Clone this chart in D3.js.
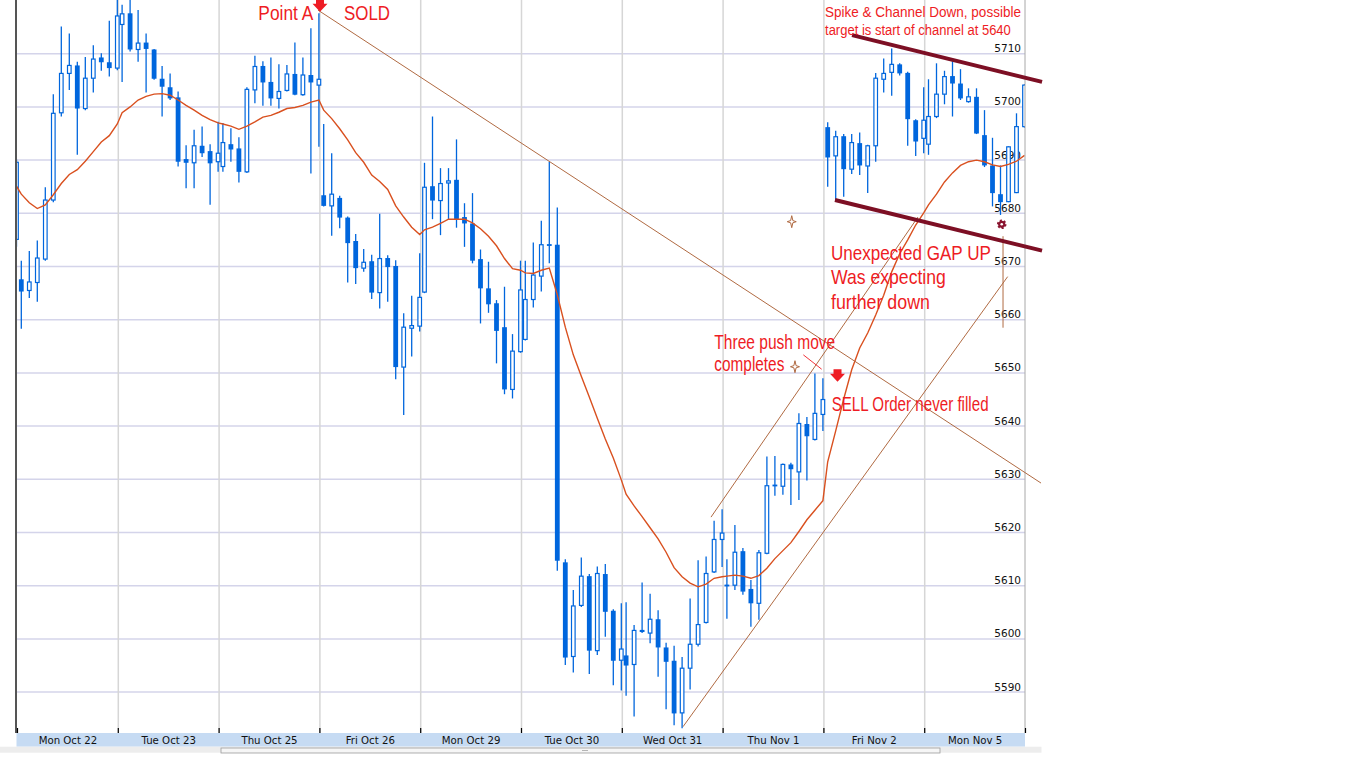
<!DOCTYPE html>
<html>
<head>
<meta charset="utf-8">
<script src="https://cdn.jsdelivr.net/npm/d3@7"></script>
<style>
body { margin: 0; background: #fff; }
svg { display: block; }
</style>
</head>
<body>
<svg id="chart" width="1366" height="768"></svg>
<script>
var width = 1366, height = 768;
var left = 17, right = 1025, bottom = 733;

var dayLabels = ["Mon Oct 22", "Tue Oct 23", "Thu Oct 25", "Fri Oct 26", "Mon Oct 29",
                 "Tue Oct 30", "Wed Oct 31", "Thu Nov 1", "Fri Nov 2", "Mon Nov 5"];

var priceTicks = [5590, 5600, 5610, 5620, 5630, 5640, 5650, 5660, 5670, 5680, 5690, 5700, 5710];

// first bar is the last one of the previous session, then 13 bars per day
var opens = [5675.0,
  5667.5, 5665.4, 5666.9, 5671.3, 5682.4, 5698.8, 5706.2, 5707.7, 5699.6, 5705.3, 5709.2, 5708.3, 5707.2,
  5715.4, 5717.5, 5710.7, 5712.0, 5710.7, 5705.2, 5703.6, 5701.7, 5690.1, 5689.4, 5692.6, 5691.6, 5689.6,
  5688.7, 5692.9, 5692.1, 5687.7, 5703.1, 5707.6, 5704.6, 5701.5, 5703.0, 5706.1, 5702.2, 5705.9, 5704.0,
  5683.3, 5681.3, 5682.8, 5679.1, 5674.7, 5669.6, 5670.9, 5665.0, 5671.5, 5670.0, 5651.0, 5658.3, 5658.7,
  5665.1, 5685.0, 5682.3, 5685.6, 5686.2, 5679.2, 5678.0, 5671.3, 5665.8, 5663.0, 5658.5, 5646.8, 5653.9,
  5656.2, 5663.7, 5668.1, 5673.9, 5674.0, 5614.3, 5596.6, 5606.2, 5611.7, 5597.7, 5612.1, 5605.2, 5595.9,
  5596.8, 5595.1, 5601.6, 5601.0, 5603.6, 5598.3, 5595.8, 5586.0, 5594.4, 5598.9, 5603.0, 5612.5, 5618.6,
  5609.9, 5610.0, 5616.4, 5609.3, 5606.6, 5616.0, 5628.7, 5628.6, 5632.7, 5631.3, 5640.3, 5637.4, 5642.1,
  5696.1, 5690.7, 5694.4, 5688.2, 5693.1, 5688.8, 5692.6, 5705.1, 5706.4, 5707.9, 5706.3, 5697.4, 5694.0,
  5692.9, 5698.1, 5702.3, 5705.7, 5704.3, 5700.9, 5701.8, 5694.6, 5688.9, 5683.5, 5682.1, 5683.8, 5696.2];

var highs = [5690.0,
  5671.0, 5672.8, 5674.8, 5684.8, 5702.3, 5715.0, 5713.7, 5708.4, 5709.3, 5711.5, 5710.0, 5716.1, 5722.0,
  5719.1, 5722.0, 5718.1, 5713.7, 5710.8, 5707.6, 5706.2, 5702.8, 5692.7, 5695.6, 5696.2, 5692.9, 5697.1,
  5696.9, 5695.9, 5694.2, 5703.6, 5709.5, 5708.5, 5709.2, 5707.9, 5707.8, 5712.0, 5709.2, 5714.7, 5717.5,
  5696.7, 5691.2, 5683.2, 5679.3, 5676.0, 5673.2, 5672.1, 5679.8, 5672.0, 5671.1, 5661.1, 5664.4, 5672.4,
  5689.4, 5698.1, 5688.4, 5688.4, 5693.8, 5681.8, 5683.7, 5673.1, 5670.8, 5663.6, 5666.1, 5657.2, 5671.0,
  5671.0, 5674.4, 5678.5, 5689.6, 5681.0, 5614.9, 5609.1, 5615.2, 5612.1, 5613.5, 5614.0, 5605.5, 5606.6,
  5606.8, 5602.5, 5610.5, 5608.4, 5605.3, 5599.2, 5598.6, 5596.5, 5607.5, 5614.7, 5615.4, 5622.1, 5624.3,
  5614.9, 5621.3, 5617.0, 5611.0, 5616.6, 5634.2, 5634.3, 5632.9, 5633.0, 5642.3, 5641.6, 5649.8, 5648.9,
  5697.0, 5695.4, 5694.8, 5694.8, 5695.1, 5692.8, 5706.3, 5709.0, 5710.9, 5708.1, 5706.5, 5697.6, 5703.6,
  5705.1, 5708.1, 5706.7, 5708.5, 5707.0, 5703.4, 5703.4, 5699.3, 5694.1, 5688.9, 5692.5, 5698.7, 5704.2];

var lows = [5673.6,
  5658.2, 5664.0, 5663.3, 5671.0, 5682.0, 5698.1, 5703.1, 5690.9, 5699.3, 5702.6, 5706.7, 5705.6, 5706.8,
  5704.6, 5710.3, 5708.4, 5702.6, 5705.0, 5698.1, 5701.2, 5688.7, 5684.6, 5684.6, 5690.5, 5681.5, 5687.7,
  5687.7, 5689.6, 5685.7, 5687.5, 5700.6, 5700.1, 5700.1, 5699.6, 5702.8, 5702.1, 5702.0, 5687.4, 5692.4,
  5681.2, 5675.7, 5677.1, 5666.9, 5666.6, 5668.9, 5663.8, 5662.0, 5663.3, 5648.7, 5642.0, 5653.0, 5657.7,
  5664.9, 5678.8, 5675.8, 5678.8, 5677.2, 5673.6, 5670.5, 5659.2, 5661.2, 5651.7, 5645.9, 5645.1, 5653.7,
  5656.0, 5662.2, 5665.2, 5670.5, 5612.7, 5595.0, 5593.6, 5605.9, 5593.3, 5596.9, 5600.3, 5591.2, 5590.2,
  5589.2, 5585.3, 5601.0, 5599.1, 5592.8, 5586.7, 5583.7, 5583.1, 5590.4, 5598.5, 5602.8, 5612.3, 5613.4,
  5603.7, 5609.1, 5608.2, 5602.2, 5603.5, 5615.8, 5626.8, 5627.0, 5625.1, 5626.0, 5629.7, 5637.2, 5639.0,
  5684.9, 5682.4, 5683.0, 5687.3, 5687.1, 5683.7, 5689.6, 5702.6, 5702.0, 5705.8, 5692.6, 5690.7, 5691.2,
  5690.9, 5697.8, 5700.4, 5698.1, 5701.2, 5700.7, 5694.8, 5688.6, 5681.2, 5679.6, 5682.0, 5683.7, 5696.0];

var closes = [5689.5,
  5665.2, 5667.0, 5671.5, 5682.4, 5698.7, 5706.2, 5707.7, 5699.6, 5705.3, 5708.9, 5708.3, 5707.2, 5717.0,
  5717.4, 5710.7, 5711.9, 5710.8, 5705.2, 5703.7, 5701.5, 5689.6, 5689.4, 5692.6, 5691.2, 5689.3, 5691.2,
  5693.2, 5691.9, 5687.7, 5703.2, 5707.5, 5704.5, 5701.5, 5702.8, 5706.1, 5702.2, 5705.9, 5704.5, 5705.1,
  5681.3, 5683.5, 5679.1, 5674.3, 5669.6, 5670.7, 5665.0, 5671.4, 5669.8, 5651.0, 5658.5, 5658.8, 5664.1,
  5684.8, 5682.3, 5685.5, 5686.0, 5678.8, 5678.0, 5671.0, 5665.8, 5662.8, 5657.8, 5646.8, 5654.0, 5665.5,
  5663.7, 5668.3, 5674.0, 5674.0, 5614.6, 5596.4, 5606.1, 5611.7, 5597.7, 5612.2, 5605.0, 5595.8, 5598.0,
  5594.9, 5601.5, 5601.2, 5603.6, 5598.3, 5595.6, 5585.9, 5594.4, 5598.9, 5602.6, 5612.2, 5618.6, 5619.8,
  5610.0, 5616.2, 5608.8, 5606.6, 5616.1, 5628.7, 5628.8, 5632.7, 5631.8, 5640.4, 5638.0, 5642.3, 5644.9,
  5690.4, 5694.3, 5688.2, 5693.2, 5688.9, 5692.6, 5705.3, 5706.2, 5707.9, 5706.2, 5697.6, 5693.4, 5697.4,
  5698.1, 5702.3, 5705.6, 5704.3, 5701.5, 5701.8, 5694.9, 5688.9, 5683.7, 5682.0, 5692.4, 5696.2, 5704.0];

// moving average, one value per bar
var maValues = [5685.0,
  5683.5, 5681.9, 5680.8, 5681.5, 5683.4, 5685.5, 5687.2, 5688.1, 5689.7, 5691.5, 5693.3, 5694.5, 5696.7,
  5698.8, 5699.9, 5701.2, 5701.9, 5702.3, 5702.4, 5702.1, 5701.2, 5700.2, 5699.3, 5698.3, 5697.5, 5696.9,
  5696.7, 5696.3, 5695.7, 5696.3, 5697.1, 5698.0, 5698.3, 5698.9, 5699.6, 5699.8, 5700.2, 5700.8, 5701.2,
  5699.3, 5697.7, 5695.8, 5693.7, 5691.3, 5689.5, 5687.1, 5685.9, 5684.4, 5681.3, 5679.2, 5677.3, 5675.9,
  5676.8, 5677.3, 5678.0, 5678.8, 5678.8, 5678.8, 5678.1, 5677.0, 5675.6, 5673.8, 5671.4, 5669.5, 5669.2,
  5668.7, 5668.6, 5669.2, 5669.6, 5664.6, 5658.5, 5653.3, 5649.3, 5645.4, 5641.4, 5637.5, 5633.9, 5629.8,
  5627.1, 5624.9, 5622.9, 5620.8, 5618.7, 5616.2, 5613.3, 5611.6, 5610.4, 5609.7, 5610.2, 5611.3, 5611.6,
  5611.7, 5611.9, 5611.7, 5611.3, 5611.8, 5613.2, 5615.0, 5616.5, 5618.0, 5620.1, 5622.3, 5624.1, 5625.9,
  5633.2, 5639.0, 5645.0, 5650.5, 5654.6, 5657.4, 5660.8, 5664.5, 5668.9, 5672.3, 5674.9, 5677.7, 5680.0,
  5681.5, 5683.5, 5685.8, 5687.5, 5688.9, 5689.6, 5689.9, 5689.6, 5689.0, 5688.7, 5689.1, 5689.7, 5690.8];

// hand drawn lines: [day position, price] start and end
var thinLines = [
  [[2.986, 5718.1], [10.159, 5629.2]],
  [[6.885, 5622.8], [8.938, 5679.2]],
  [[6.607, 5583.4], [9.828, 5668.0]],
  [[9.782, 5675.6], [9.782, 5658.4]]
];
var channelLines = [
  [[8.284, 5713.4], [10.169, 5704.6]],
  [[8.115, 5682.4], [10.169, 5672.9]]
];
var pointerLine = [[7.801, 5653.3], [7.983, 5650.6]];

var notes = [
  {text: "Point A", t: 2.394, p: 5716.24, size: 21, len: 55},
  {text: "SOLD", t: 3.244, p: 5716.24, size: 21, len: 46},
  {text: "Spike & Channel Down, possible", t: 8.016, p: 5716.86, size: 15, len: 196},
  {text: "target is start of channel at 5640", t: 8.016, p: 5713.42, size: 15, len: 186},
  {text: "Unexpected GAP UP", t: 8.075, p: 5671.13, size: 20, len: 160},
  {text: "Was expecting", t: 8.075, p: 5666.56, size: 20, len: 115},
  {text: "further down", t: 8.075, p: 5661.86, size: 20, len: 99},
  {text: "Three push move", t: 6.918, p: 5654.40, size: 19.5, len: 121},
  {text: "completes", t: 6.918, p: 5650.32, size: 19.5, len: 70},
  {text: "SELL Order never filled", t: 8.082, p: 5642.80, size: 19.5, len: 157}
];
var arrows = [[3.006, 5717.8], [8.140, 5648.25]];
var sparkles = [[7.686, 5678.33], [7.718, 5651.07]];
var gears = [[9.769, 5677.84]];

var blue = "#0066dd", red = "#ee1c24", brown = "#b06a42";

var svg = d3.select("#chart");
svg.append("rect").attr("width", width).attr("height", height).attr("fill", "#fff");

var x = d3.scaleLinear().domain([0, 10]).range([left, right]);
var y = d3.scaleLinear().domain([5582.22, 5720]).range([bottom, 0]);

function barTime(i) {
  var slot = i + 12;
  var d = Math.floor(slot / 13) - 1, k = slot % 13;
  return d + (4.3 + 8 * k) / 100.8;
}

var bars = opens.map(function(o, i) {
  return {t: barTime(i), o: o, h: highs[i], l: lows[i], c: closes[i], ma: maValues[i]};
});

svg.append("defs").append("clipPath").attr("id", "plot")
  .append("rect").attr("x", left).attr("y", 0).attr("width", right - left).attr("height", bottom);

// horizontal grid + price labels
var yAxis = svg.append("g")
  .attr("transform", "translate(" + left + ",0)")
  .call(d3.axisRight(y).tickValues(priceTicks).tickSize(right - left).tickFormat(d3.format("d")));
yAxis.select(".domain").remove();
yAxis.selectAll("line").attr("stroke", "#d4d4ea").attr("stroke-width", 1.5);
yAxis.selectAll("text")
  .attr("x", right - left - 4).attr("dy", -1.5)
  .attr("text-anchor", "end")
  .attr("fill", "#111")
  .style("font-family", "'DejaVu Sans', Verdana, sans-serif")
  .style("font-size", "10.5px");

// vertical day grid
var xGrid = svg.append("g")
  .attr("transform", "translate(0," + bottom + ")")
  .call(d3.axisBottom(x).tickValues(d3.range(1, 10)).tickSize(-bottom).tickFormat(""));
xGrid.select(".domain").remove();
xGrid.selectAll("line").attr("stroke", "#d6d6d6").attr("stroke-width", 1.5);

// candles
var plot = svg.append("g").attr("clip-path", "url(#plot)");

plot.selectAll("line.wick")
  .data(bars)
  .join("line")
  .attr("class", "wick")
  .attr("x1", function(d) { return x(d.t); })
  .attr("x2", function(d) { return x(d.t); })
  .attr("y1", function(d) { return y(d.h); })
  .attr("y2", function(d) { return y(d.l); })
  .attr("stroke", blue)
  .attr("stroke-width", 1.3);

plot.selectAll("rect.down")
  .data(bars.filter(function(d) { return d.c < d.o; }))
  .join("rect")
  .attr("class", "down")
  .attr("x", function(d) { return x(d.t) - 2.4; })
  .attr("width", 4.8)
  .attr("y", function(d) { return y(d.o); })
  .attr("height", function(d) { return Math.max(1.2, y(d.c) - y(d.o)); })
  .attr("fill", blue);

plot.selectAll("rect.up")
  .data(bars.filter(function(d) { return d.c >= d.o; }))
  .join("rect")
  .attr("class", "up")
  .attr("x", function(d) { return x(d.t) - 1.8; })
  .attr("width", 3.6)
  .attr("y", function(d) { return y(d.c); })
  .attr("height", function(d) { return Math.max(0.6, y(d.o) - y(d.c)); })
  .attr("fill", "#fff")
  .attr("stroke", blue)
  .attr("stroke-width", 1.2);

// moving average
plot.append("path")
  .datum(bars)
  .attr("fill", "none")
  .attr("stroke", "#d9501f")
  .attr("stroke-width", 1.4)
  .attr("d", d3.line().x(function(d) { return x(d.t); }).y(function(d) { return y(d.ma); }));

// borders
svg.append("line").attr("x1", left - 1).attr("x2", left - 1).attr("y1", 0).attr("y2", bottom)
  .attr("stroke", "#555").attr("stroke-width", 2);
svg.append("line").attr("x1", right).attr("x2", right).attr("y1", 0).attr("y2", bottom)
  .attr("stroke", "#a8a8a8").attr("stroke-width", 1);

// date band
svg.append("rect").attr("x", left - 0.5).attr("y", bottom).attr("width", right - left + 0.5).attr("height", 13.7)
  .attr("fill", "#c6dbf3");
var xTicks = svg.append("g")
  .attr("transform", "translate(0," + bottom + ")")
  .call(d3.axisBottom(x).tickValues(d3.range(0, 11)).tickSize(-5).tickFormat(""));
xTicks.select(".domain").remove();
xTicks.selectAll("line").attr("stroke", "#000").attr("stroke-width", 1.2);

var xLabels = svg.append("g")
  .attr("transform", "translate(0," + bottom + ")")
  .call(d3.axisBottom(x).tickValues(d3.range(0.5, 10, 1)).tickSize(0)
    .tickFormat(function(d) { return dayLabels[Math.floor(d)]; }));
xLabels.select(".domain").remove();
xLabels.selectAll("text")
  .attr("y", 10.8).attr("dy", 0)
  .attr("fill", "#111")
  .style("font-family", "'DejaVu Sans', Verdana, sans-serif")
  .style("font-size", "10.2px");

// scroll bar under the chart
svg.append("rect").attr("x", 0).attr("y", 746.7).attr("width", 1041.5).attr("height", 6)
  .attr("fill", "#ededed");
svg.append("rect").attr("x", 221).attr("y", 748).attr("width", 719).attr("height", 5)
  .attr("fill", "#f6f6f6").attr("stroke", "#9c9c9c").attr("stroke-width", 0.8);
svg.selectAll("circle.grip").data([-2, 0, 2]).join("circle")
  .attr("class", "grip").attr("cx", function(d) { return 585 + d; }).attr("cy", 750.5)
  .attr("r", 0.6).attr("fill", "#666");

// drawn lines
var ann = svg.append("g");
ann.selectAll("line.thin")
  .data(thinLines)
  .join("line")
  .attr("class", "thin")
  .attr("x1", function(d) { return x(d[0][0]); })
  .attr("y1", function(d) { return y(d[0][1]); })
  .attr("x2", function(d) { return x(d[1][0]); })
  .attr("y2", function(d) { return y(d[1][1]); })
  .attr("stroke", brown)
  .attr("stroke-width", 1);

ann.selectAll("line.channel")
  .data(channelLines)
  .join("line")
  .attr("class", "channel")
  .attr("x1", function(d) { return x(d[0][0]); })
  .attr("y1", function(d) { return y(d[0][1]); })
  .attr("x2", function(d) { return x(d[1][0]); })
  .attr("y2", function(d) { return y(d[1][1]); })
  .attr("stroke", "#7d0f24")
  .attr("stroke-width", 4);

ann.append("line")
  .attr("x1", x(pointerLine[0][0])).attr("y1", y(pointerLine[0][1]))
  .attr("x2", x(pointerLine[1][0])).attr("y2", y(pointerLine[1][1]))
  .attr("stroke", red).attr("stroke-width", 0.9);

// markers
ann.selectAll("path.arrow")
  .data(arrows)
  .join("path")
  .attr("class", "arrow")
  .attr("transform", function(d) { return "translate(" + x(d[0]) + "," + y(d[1]) + ")"; })
  .attr("d", "M-4,-12.5 H4 V-8 H7.5 L0,0 L-7.5,-8 H-4 Z")
  .attr("fill", red);

ann.selectAll("path.sparkle")
  .data(sparkles)
  .join("path")
  .attr("class", "sparkle")
  .attr("transform", function(d) { return "translate(" + x(d[0]) + "," + y(d[1]) + ")"; })
  .attr("d", "M0,-6 L1.1,-1.1 L4.5,0 L1.1,1.1 L0,6 L-1.1,1.1 L-4.5,0 L-1.1,-1.1 Z")
  .attr("fill", "#fff")
  .attr("stroke", brown)
  .attr("stroke-width", 1);

var gear = ann.selectAll("g.gear")
  .data(gears)
  .join("g")
  .attr("class", "gear")
  .attr("transform", function(d) { return "translate(" + x(d[0]) + "," + y(d[1]) + ")"; });
gear.append("circle").attr("r", 3.6).attr("fill", "#8a1530")
  .attr("stroke", "#8a1530").attr("stroke-width", 2.4).attr("stroke-dasharray", "1.9 1.8");
gear.append("circle").attr("r", 1.3).attr("fill", "#fff");

// notes: the source font is narrow, so squeeze each line to its measured width
ann.selectAll("text.note")
  .data(notes)
  .join("text")
  .attr("class", "note")
  .attr("fill", red)
  .style("font-family", "'Liberation Sans', Arial, sans-serif")
  .style("font-size", function(d) { return d.size + "px"; })
  .text(function(d) { return d.text; })
  .attr("transform", function(d) {
    var w = this.getComputedTextLength() || d.len;
    return "translate(" + x(d.t) + "," + y(d.p) + ") scale(" + (d.len / w) + ",1)";
  });
</script>
</body>
</html>
